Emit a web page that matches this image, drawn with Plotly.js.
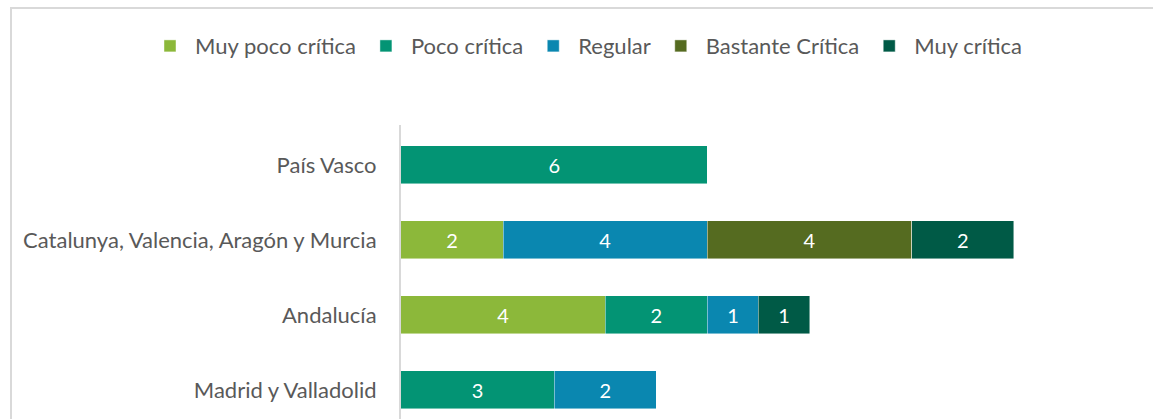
<!DOCTYPE html>
<html>
<head>
<meta charset="utf-8">
<script src="https://cdn.plot.ly/plotly-3.0.1.min.js"></script>
<style>
html,body{margin:0;padding:0;background:#fff;overflow:hidden;}
#frame{position:absolute;left:10px;top:7px;width:1160px;height:430px;border-left:2px solid #d9d9d9;border-top:2px solid #d9d9d9;box-sizing:border-box;pointer-events:none;}
#chart{position:absolute;left:0;top:0;width:1153px;height:419px;}
</style>
</head>
<body>
<div id="chart"></div>
<div id="frame"></div>
<script>
const categories = ["Madrid y Valladolid", "Andalucía", "Catalunya, Valencia, Aragón y Murcia", "País Vasco"];
const seriesNames = ["Muy poco crítica", "Poco crítica", "Regular", "Bastante Crítica", "Muy crítica"];
const muyPoco   = [null, 4, 2, null];
const poco      = [3, 2, null, 6];
const regular   = [2, 1, 4, null];
const bastante  = [null, null, 4, null];
const muyCritica= [null, 1, 2, null];
const colors = ["#8cb83a", "#039474", "#0a87b0", "#556b20", "#005a46"];

const seriesValues = [muyPoco, poco, regular, bastante, muyCritica];
const FONT = "Lato, sans-serif";
const FS = 22;

const traces = seriesValues.map((vals, i) => ({
  type: "bar",
  orientation: "h",
  name: seriesNames[i],
  y: categories,
  x: vals,
  marker: {color: colors[i], line: {color: "rgba(255,255,255,0.6)", width: 0.75}},
  texttemplate: "%{x}",
  textposition: "inside",
  insidetextanchor: "middle",
  textfont: {color: "#ffffff", size: 20, family: FONT},
  hoverinfo: "x+name"
}));

const layout = {
  width: 1153,
  height: 419,
  barmode: "stack",
  bargap: 0.493,
  margin: {l: 20, r: 20, t: 125, b: 0},
  paper_bgcolor: "rgba(0,0,0,0)",
  plot_bgcolor: "rgba(0,0,0,0)",
  font: {family: FONT, size: FS, color: "#595959"},
  showlegend: true,
  legend: {
    orientation: "h",
    xref: "paper", yref: "container",
    x: 0.1123, xanchor: "left",
    y: 0.89, yanchor: "middle",
    traceorder: "normal",
    font: {family: FONT, size: FS, color: "#595959"},
    itemwidth: 40
  },
  xaxis: {
    domain: [0.3423, 0.9847],
    range: [0, 14],
    showgrid: false, zeroline: false, showticklabels: false, showline: false, ticks: ""
  },
  yaxis: {
    type: "category",
    range: [-0.387, 3.533],
    showgrid: false, zeroline: false,
    showline: true, linecolor: "#d9d9d9", linewidth: 2,
    ticks: "", ticklabelstandoff: 18,
    tickfont: {family: FONT, size: FS, color: "#595959"}
  }
};

Plotly.newPlot("chart", traces, layout, {displayModeBar: false, staticPlot: true});
</script>
</body>
</html>
